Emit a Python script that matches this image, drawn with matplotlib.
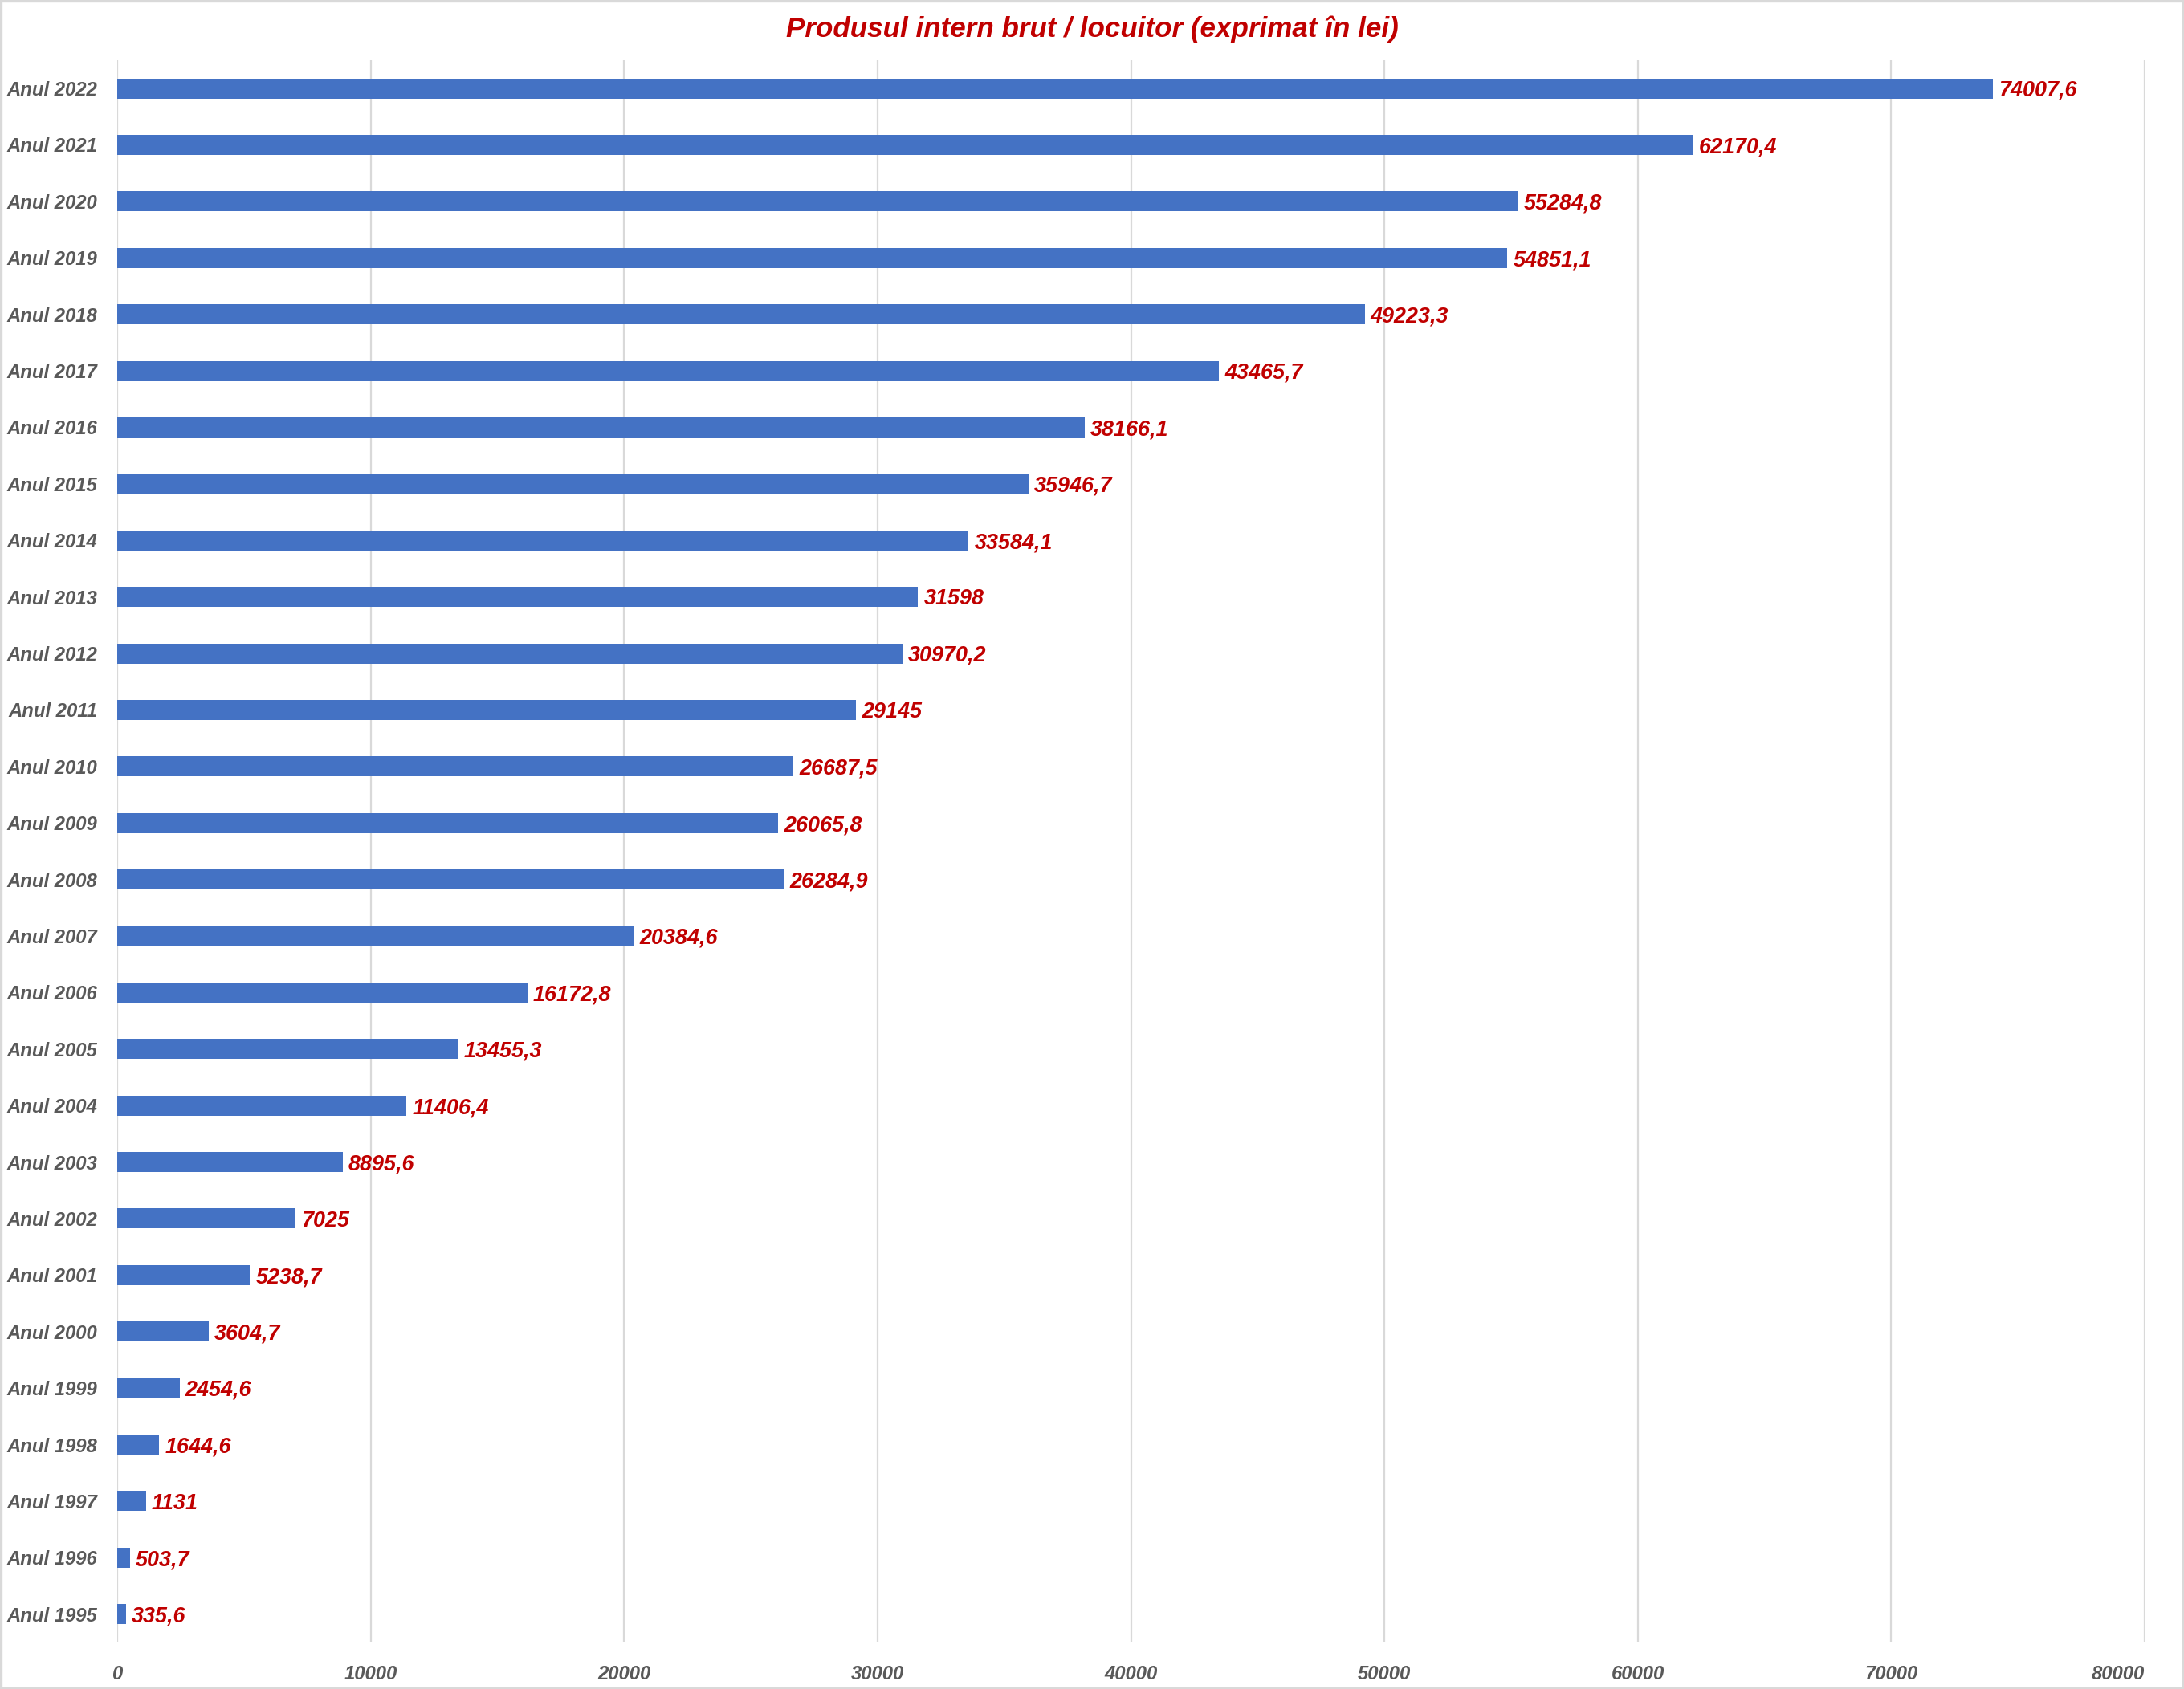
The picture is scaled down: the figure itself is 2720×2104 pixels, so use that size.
import matplotlib.pyplot as plt
from matplotlib.patches import Rectangle

# date: PIB / locuitor, lei (de jos in sus: 1995 -> 2022)
years = [f"Anul {y}" for y in range(1995, 2023)]
values = [335.6, 503.7, 1131, 1644.6, 2454.6, 3604.7, 5238.7, 7025, 8895.6,
          11406.4, 13455.3, 16172.8, 20384.6, 26284.9, 26065.8, 26687.5,
          29145, 30970.2, 31598, 33584.1, 35946.7, 38166.1, 43465.7,
          49223.3, 54851.1, 55284.8, 62170.4, 74007.6]
x_ticks = list(range(0, 80001, 10000))

bar_color = "#4472C4"
value_color = "#C00000"
label_color = "#595959"
grid_color = "#D9D9D9"

plt.rcParams["font.family"] = ["Liberation Sans", "DejaVu Sans"]

fig = plt.figure(figsize=(13.6, 10.52), dpi=200)
ax = fig.add_axes([0.0537, 0.0276, 0.9283, 0.9368])

pos = list(range(len(years)))
ax.barh(pos, values, height=0.355, color=bar_color, zorder=3)

for p, v in zip(pos, values):
    txt = f"{v:g}".replace(".", ",")
    ax.text(v + 230, p - 0.04, txt, va="center", ha="left", color=value_color,
            fontsize=9.7, fontweight="bold", fontstyle="italic", zorder=4)

ax.set_xlim(0, 80000)
ax.set_ylim(-0.5, len(years) - 0.5)
ax.set_xticks(x_ticks)
ax.set_xticklabels([str(t) for t in x_ticks])
ax.set_yticks(pos)
ax.set_yticklabels(years)

for lbl in ax.get_xticklabels() + ax.get_yticklabels():
    lbl.set_fontweight("bold")
    lbl.set_fontstyle("italic")
    lbl.set_color(label_color)
    lbl.set_fontsize(8.6)
ax.get_xticklabels()[-1].set_horizontalalignment("right")

ax.tick_params(axis="x", length=0, pad=10)
ax.tick_params(axis="y", length=0, pad=9)
ax.grid(axis="x", color=grid_color, linewidth=0.8, zorder=0)
for s in ax.spines.values():
    s.set_visible(False)

fig.text(0.5, 0.983, "Produsul intern brut / locuitor (exprimat în lei)",
         ha="center", va="center", color=value_color, fontsize=12.6,
         fontweight="bold", fontstyle="italic")

fig.patches.append(Rectangle((0.0005, 0.0005), 0.999, 0.999, transform=fig.transFigure,
                             fill=False, edgecolor=grid_color, linewidth=1.2))

fig.savefig("out.png", dpi=200)
